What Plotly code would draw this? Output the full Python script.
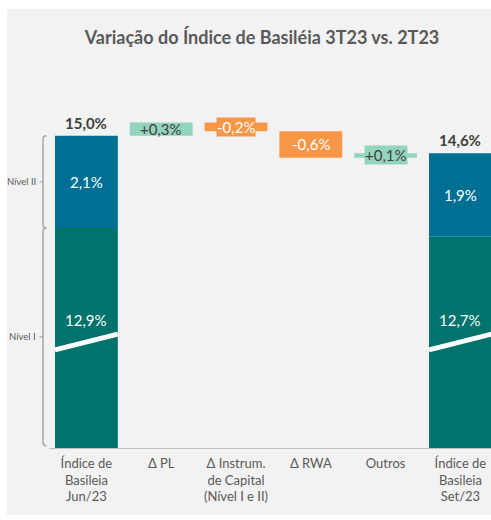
import plotly.graph_objects as go

# -------------------- DATA -------------------- #

categories = [
    "Índice de<br>Basileia<br>Jun/23",
    "Δ PL",
    "Δ Instrum.<br>de Capital<br>(Nível I e II)",
    "Δ RWA",
    "Outros",
    "Índice de<br>Basileia<br>Set/23",
]
nivel1 = [12.9, 12.7]          # Jun/23, Set/23
nivel2 = [2.1, 1.9]
totals = [15.0, 14.6]
deltas = [0.3, -0.2, -0.6, 0.1]  # Δ PL, Δ Instrum., Δ RWA, Outros

# -------------------- STYLE -------------------- #

BLUE = "#006f94"
TEAL = "#00736c"
GREEN = "#93d4bd"
ORANGE = "#f79646"
BG = "#f2f2f2"
TXT = "#595959"
FONT = "Lato"

Y0, Y1 = 7.9, 16.72      # broken axis: the bottom of the bars is cut
BAR_W = 0.84


def pct(v, sign=False):
    s = f"{v:+.1f}" if sign else f"{v:.1f}"
    return s.replace(".", ",") + "%"


x_ends = [0, 5]
x_steps = [1, 2, 3, 4]

bases = []
run = totals[0]
for d in deltas:
    bases.append(run)
    run += d

fig = go.Figure()

fig.add_trace(go.Bar(
    x=x_ends, y=nivel1, base=[0, 0], width=BAR_W,
    marker=dict(color=TEAL, line_width=0), hoverinfo="skip"
))
fig.add_trace(go.Bar(
    x=x_ends, y=nivel2, base=nivel1, width=BAR_W,
    marker=dict(color=BLUE, line_width=0), hoverinfo="skip"
))
fig.add_trace(go.Bar(
    x=x_steps, y=deltas, base=bases, width=BAR_W,
    marker=dict(color=[GREEN if d > 0 else ORANGE for d in deltas], line_width=0),
    hoverinfo="skip"
))

# -------------------- LABELS -------------------- #

for x, t in zip(x_ends, totals):
    fig.add_annotation(x=x, y=t, text=f"<b>{pct(t)}</b>", showarrow=False,
                       yanchor="bottom", yshift=2,
                       font=dict(family=FONT, size=15, color="#404040"))

for x, n1, n2 in zip(x_ends, nivel1, nivel2):
    fig.add_annotation(x=x, y=n1 + n2 / 2, text=pct(n2), showarrow=False,
                       font=dict(family=FONT, size=15, color="white"))
    fig.add_annotation(x=x, y=10.8, text=pct(n1), showarrow=False,
                       font=dict(family=FONT, size=15, color="white"))
    # white break mark across the cut bar
    fig.add_shape(type="line", xref="x", yref="y",
                  x0=x - BAR_W / 2, x1=x + BAR_W / 2, y0=10.13, y1=10.49,
                  line=dict(color="white", width=5))

for x, b, d in zip(x_steps, bases, deltas):
    col = GREEN if d > 0 else ORANGE
    thin = abs(d) < 0.25   # thin bars get a label box on top of them
    fig.add_annotation(x=x, y=b + d / 2, text=pct(d, sign=True), showarrow=False,
                       bgcolor=col if thin else "rgba(0,0,0,0)", borderpad=0,
                       font=dict(family=FONT, size=15,
                                 color="#404040" if d > 0 else "white"))

# -------------------- BRACES (Nível I / Nível II) -------------------- #

def px_to_paper(px):
    return (px - 49) / 442

xv, xh, xt = px_to_paper(43), px_to_paper(46.5), px_to_paper(39.5)
braces = [("Nível II", totals[0], nivel1[0]), ("Nível I", nivel1[0], Y0 + 0.05)]
for name, top, bot in braces:
    mid = (top + bot) / 2
    fig.add_shape(type="path", xref="paper", yref="y",
                  path=(f"M {xh},{top} Q {xv},{top} {xv},{top - 0.08} "
                        f"L {xv},{bot + 0.08} Q {xv},{bot} {xh},{bot}"),
                  line=dict(color="#a6a6a6", width=1.5))
    fig.add_shape(type="line", xref="paper", yref="y",
                  x0=xv, x1=xt, y0=mid, y1=mid,
                  line=dict(color="#a6a6a6", width=1.2))
    fig.add_annotation(xref="paper", yref="y", x=px_to_paper(38), y=mid,
                       text=name, showarrow=False, xanchor="right",
                       font=dict(family=FONT, size=9.5, color=TXT))

# grey panel
fig.add_shape(type="rect", xref="paper", yref="paper", layer="below",
              x0=px_to_paper(7), x1=1.0,
              y0=(448 - 515) / 388, y1=(448 - 9) / 388,
              fillcolor=BG, line_width=0)

# -------------------- LAYOUT -------------------- #

fig.update_layout(
    width=491, height=520,
    margin=dict(l=49, r=0, t=60, b=72),
    barmode="overlay",
    showlegend=False,
    paper_bgcolor="white",
    plot_bgcolor=BG,
    title=dict(text="<b>Variação do Índice de Basiléia 3T23 vs. 2T23</b>",
               xref="container", x=262 / 491, xanchor="center",
               yref="container", y=1 - 38 / 520, yanchor="middle",
               font=dict(family=FONT, size=18, color=TXT)),
    xaxis=dict(tickmode="array", tickvals=list(range(6)), ticktext=categories,
               range=[-0.5, 5.409], showgrid=False, zeroline=False,
               showline=True, linecolor="#bfbfbf", linewidth=1, ticks="",
               ticklabelstandoff=3,
               tickfont=dict(family=FONT, size=13, color=TXT)),
    yaxis=dict(range=[Y0, Y1], visible=False),
)

fig.write_html("out.html", config={"displayModeBar": False},
               post_script="document.body.style.margin='0px';")
